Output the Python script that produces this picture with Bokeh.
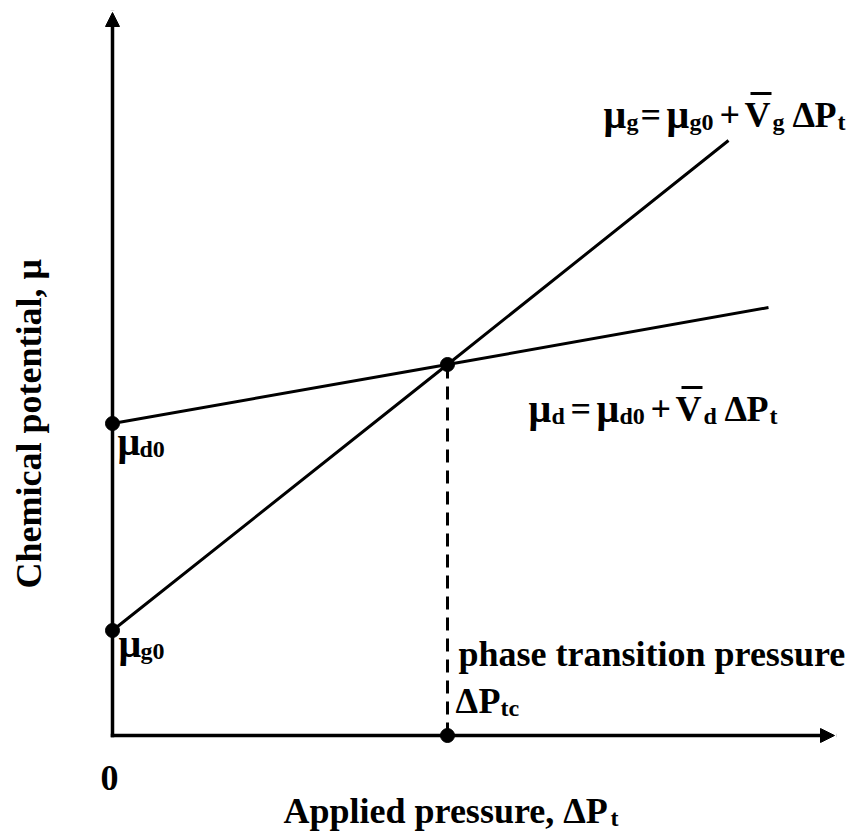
from bokeh.plotting import figure
from bokeh.models import Range1d, Label, Arrow, NormalHead
from bokeh.embed import file_html
from bokeh.resources import INLINE
import math

# ---- data (arbitrary units) ----
P_line_g = [0.0, 3.35, 6.16]      # applied pressure along mu_g line
mu_line_g = [1.05, 3.71, 5.95]    # chemical potential, phase g
P_line_d = [0.0, 3.35, 6.56]      # applied pressure along mu_d line
mu_line_d = [3.12, 3.71, 4.28]    # chemical potential, phase d
mu_g0 = 1.05
mu_d0 = 3.12
P_tc = 3.35                       # phase transition pressure
mu_tc = 3.71
x_axis_max = 7.22
y_axis_max = 7.23

# ---- layout ----
W, H = 856, 836
S = 100.0                 # screen px per data unit
ORX, ORY = 112, 735       # origin position on screen
FONT = "Liberation Serif"
MAIN = 36
MU = 40
SUB = 24
SUBDROP = 7
TSHIFT = 10               # correction of rendered baseline position

p = figure(width=W, height=H,
           x_range=Range1d(-ORX / S, (W - ORX) / S),
           y_range=Range1d(-(H - ORY) / S, ORY / S),
           output_backend="svg", toolbar_location=None,
           x_axis_location=None, y_axis_location=None,
           min_border=0, min_border_left=0, min_border_right=0,
           min_border_top=0, min_border_bottom=0)
p.grid.visible = False
p.outline_line_color = None
p.background_fill_color = "white"
p.border_fill_color = "white"

# axes with arrows
head = dict(size=14, fill_color="black", line_color="black", line_width=1)
p.add_layout(Arrow(x_start=0, y_start=0, x_end=x_axis_max, y_end=0,
                   line_width=3.5, line_color="black", line_cap="square",
                   end=NormalHead(**head)))
p.add_layout(Arrow(x_start=0, y_start=0, x_end=0, y_end=y_axis_max,
                   line_width=3.5, line_color="black", line_cap="square",
                   end=NormalHead(**head)))

# lines
p.line(P_line_g, mu_line_g, line_width=3, line_color="black")
p.line(P_line_d, mu_line_d, line_width=3, line_color="black")
p.line([P_tc, P_tc], [0, mu_tc], line_width=3, line_color="black", line_dash="13 8")

# points
p.scatter([0, 0, P_tc, P_tc], [mu_d0, mu_g0, mu_tc, 0], size=14,
          fill_color="black", line_color="black")


def txt(ax, ay, dx, dy, s, size=MAIN, align="left", angle=0.0):
    if angle == 0:
        dy -= TSHIFT
    else:
        dx -= TSHIFT
    p.add_layout(Label(x=ax + dx / S, y=ay - dy / S, text=s,
                       text_font=FONT, text_font_style="bold",
                       text_font_size=f"{size}px", text_color="black",
                       text_baseline="alphabetic", text_align=align,
                       angle=angle))


def rich(ax, ay, dx0, dy0, parts):
    for dx, s, kind in parts:
        if kind == 1:
            txt(ax, ay, dx0 + dx, dy0 + SUBDROP, s, size=SUB)
        elif s == "μ":
            txt(ax, ay, dx0 + dx, dy0, s, size=MU)
        else:
            txt(ax, ay, dx0 + dx, dy0, s)


def overbar(ax, ay, dx0, dy0, x1, x2):
    y = ay - (dy0 - 31) / S
    p.segment(x0=[ax + (dx0 + x1) / S], y0=[y], x1=[ax + (dx0 + x2) / S], y1=[y],
              line_width=3, line_color="black")


# equation for phase g, anchored at the end of the g line
gx, gy = P_line_g[-1], mu_line_g[-1]
eq_g = [(0, "μ", 0), (23, "g", 1), (37, "=", 0), (63, "μ", 0), (86, "g0", 1),
        (116, "+", 0), (141, "V", 0), (169, "g", 1), (189, "Δ", 0), (211, "P", 0),
        (234, "t", 1)]
rich(gx, gy, -125, -16, eq_g)
overbar(gx, gy, -125, -16, 147, 168)

# equation for phase d, anchored at the crossing point
eq_d = [(0, "μ", 0), (23, "d", 1), (42, "=", 0), (68, "μ", 0), (91, "d0", 1),
        (122, "+", 0), (147, "V", 0), (175, "d", 1), (196, "Δ", 0), (218, "P", 0),
        (241, "t", 1)]
rich(P_tc, mu_tc, 81, 54, eq_d)
overbar(P_tc, mu_tc, 81, 54, 153, 174)

# intercept labels
rich(0, mu_d0, 5, 28, [(0, "μ", 0), (22, "d0", 1)])
rich(0, mu_g0, 6, 23, [(0, "μ", 0), (22, "g0", 1)])

# phase transition pressure label
txt(P_tc, 0, 11, -72, "phase transition pressure")
rich(P_tc, 0, 8, -25, [(0, "Δ", 0), (23, "P", 0), (45, "tc", 1)])

# origin tick
txt(0, 0, -3, 52, "0", align="center")

# axis titles
txt(0, 0, 171, 85, "Applied pressure, ΔP")
txt(0, 0, 498, 92, "t", size=SUB)
txt(0, 0, -74, -147, "Chemical potential, μ", angle=math.pi / 2)

open("out.html", "w").write(file_html(p, INLINE))
